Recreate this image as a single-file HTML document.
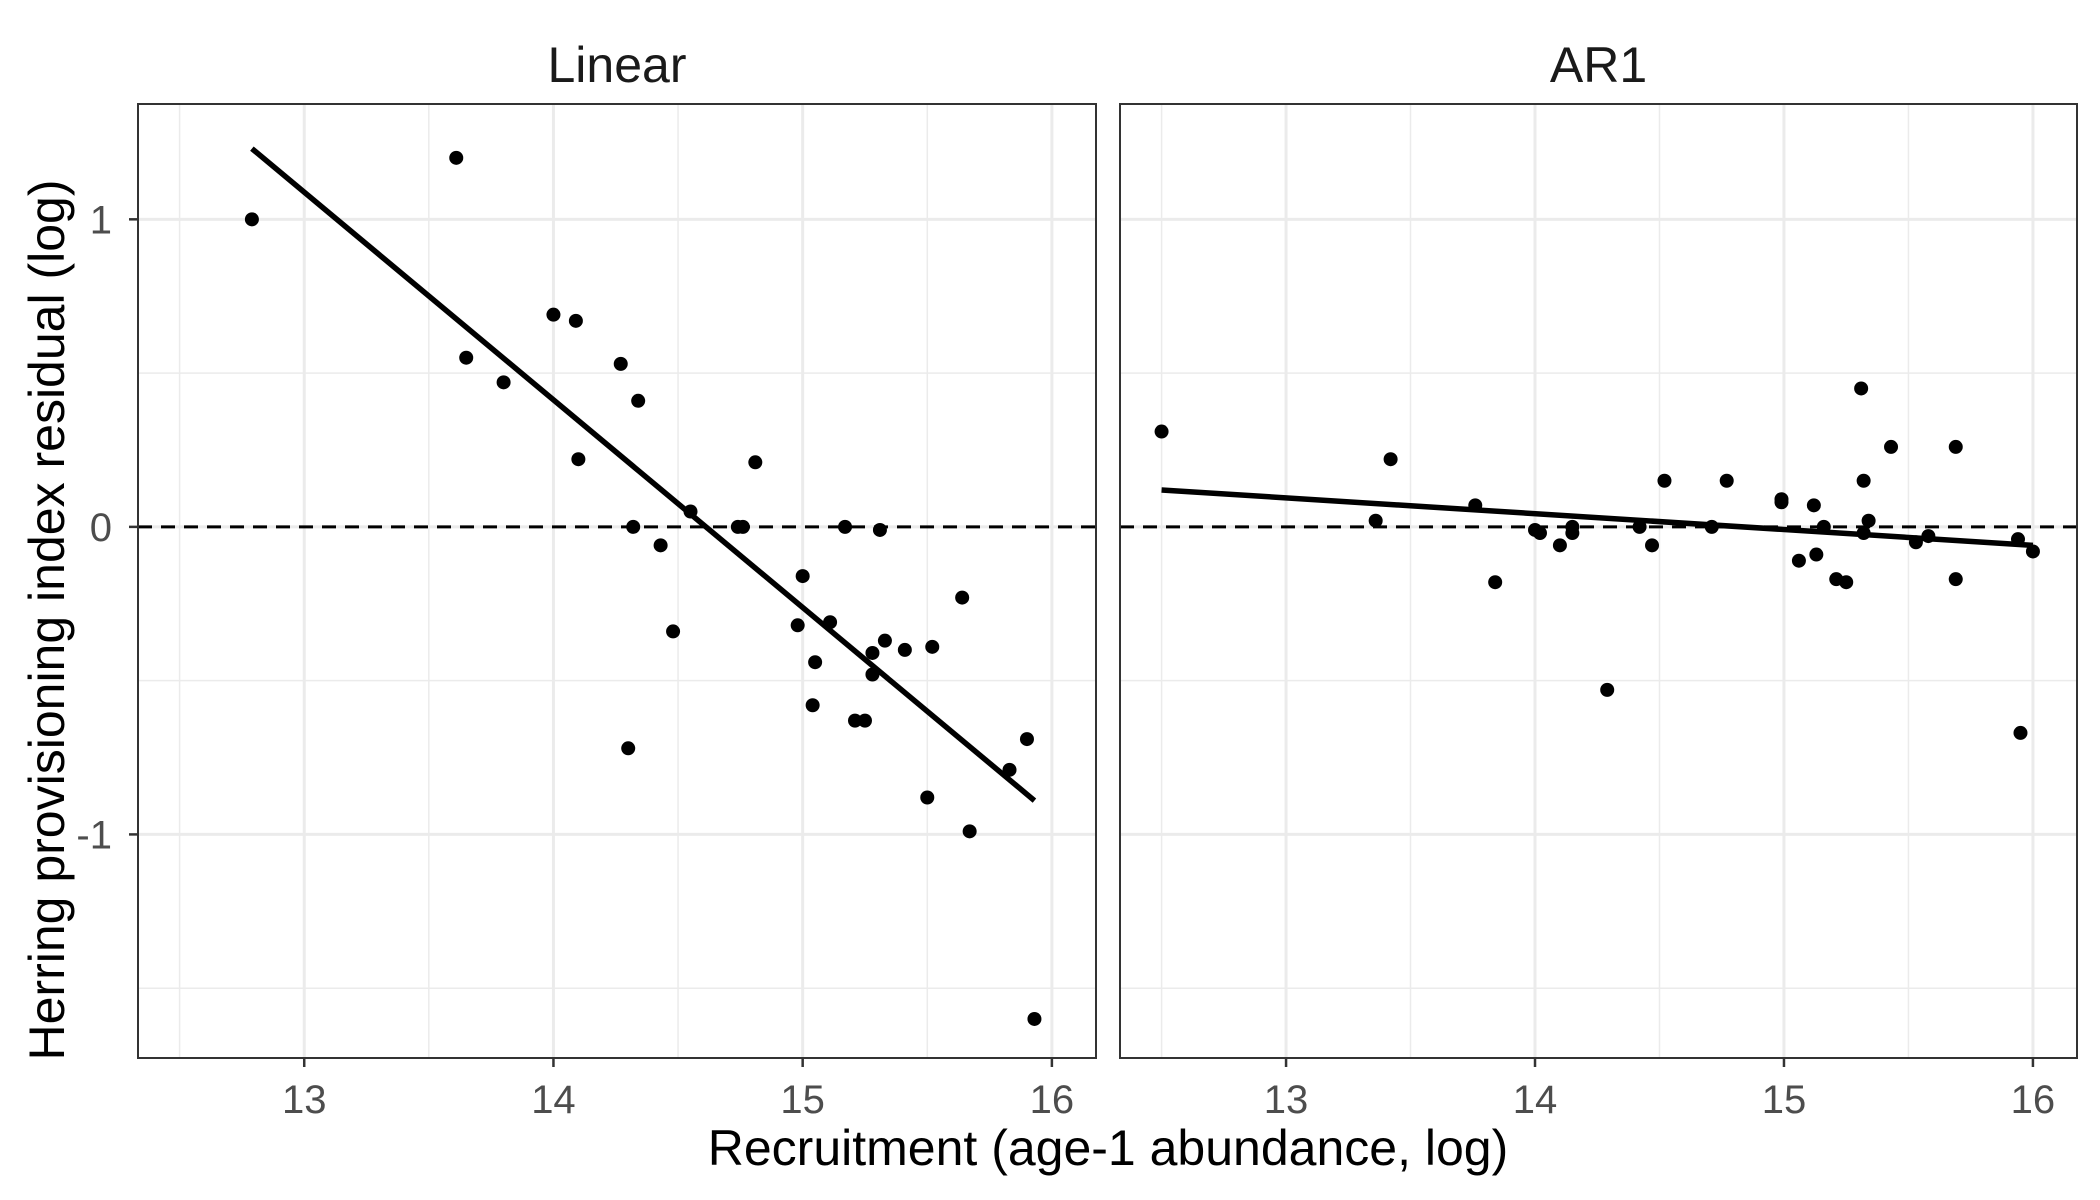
<!DOCTYPE html>
<html><head><meta charset="utf-8"><style>
html,body{margin:0;padding:0;background:#fff}
svg{display:block}
text{font-family:"Liberation Sans",Arial,sans-serif}
</style></head><body>
<svg id="chart" width="2100" height="1200" viewBox="0 0 2100 1200"></svg>
<script>
const facetTitles = ["Linear", "AR1"];
const linearX = [12.79,13.61,13.65,13.80,14.00,14.09,14.10,14.27,14.34,14.32,14.43,14.30,14.48,14.55,14.74,14.76,14.81,14.98,15.00,15.05,15.04,15.11,15.17,15.21,15.25,15.28,15.28,15.31,15.33,15.41,15.50,15.52,15.64,15.67,15.83,15.90,15.93];
const linearY = [1.00,1.20,0.55,0.47,0.69,0.67,0.22,0.53,0.41,0.00,-0.06,-0.72,-0.34,0.05,0.00,0.00,0.21,-0.32,-0.16,-0.44,-0.58,-0.31,0.00,-0.63,-0.63,-0.41,-0.48,-0.01,-0.37,-0.40,-0.88,-0.39,-0.23,-0.99,-0.79,-0.69,-1.60];
const linearFitX = [12.79, 15.93];
const linearFitY = [1.23, -0.89];
const ar1X = [12.50,13.36,13.42,13.76,13.84,14.00,14.02,14.10,14.15,14.15,14.29,14.42,14.47,14.52,14.71,14.77,14.99,14.99,15.06,15.12,15.13,15.16,15.21,15.25,15.31,15.32,15.32,15.34,15.43,15.53,15.58,15.69,15.69,15.94,15.95,16.00];
const ar1Y = [0.31,0.02,0.22,0.07,-0.18,-0.01,-0.02,-0.06,-0.02,0.00,-0.53,0.00,-0.06,0.15,0.00,0.15,0.08,0.09,-0.11,0.07,-0.09,0.00,-0.17,-0.18,0.45,0.15,-0.02,0.02,0.26,-0.05,-0.03,0.26,-0.17,-0.04,-0.67,-0.08];
const ar1FitX = [12.50, 16.00];
const ar1FitY = [0.12, -0.06];
const xTicks = [13,14,15,16];
const xMinor = [12.5,13.5,14.5,15.5];
const yTicks = [-1,0,1];
const yTickLabels = ["-1","0","1"];
const yMinor = [-1.5,-0.5,0.5];
const xDomain = [12.333, 16.177];
const yDomain = [-1.727, 1.375];

const NS = "http://www.w3.org/2000/svg";
const svg = document.getElementById("chart");
function mk(tag, attrs, parent){
  const e = document.createElementNS(NS, tag);
  for (const k in attrs) e.setAttribute(k, attrs[k]);
  (parent||svg).appendChild(e);
  return e;
}
const plotTop = 104, plotBottom = 1058;
const panels = [
  {x0:138, x1:1096, xs:linearX, ys:linearY, fx:linearFitX, fy:linearFitY},
  {x0:1120, x1:2077, xs:ar1X, ys:ar1Y, fx:ar1FitX, fy:ar1FitY}
];
function yScale(v){ return plotBottom - (v - yDomain[0])/(yDomain[1]-yDomain[0])*(plotBottom-plotTop); }

panels.forEach((p, i) => {
  const xScale = v => p.x0 + (v - xDomain[0])/(xDomain[1]-xDomain[0])*(p.x1-p.x0);
  const g = mk("g", {});
  
  
  mk("rect", {x:p.x0, y:plotTop, width:p.x1-p.x0, height:plotBottom-plotTop, fill:"#fff"}, g);
  xMinor.forEach(v => { const l = mk("line", {x1:xScale(v), x2:xScale(v), y1:plotTop, y2:plotBottom, stroke:"#ebebeb", "stroke-width":1.5}, g);
      });
  yMinor.forEach(v => { const l = mk("line", {x1:p.x0, x2:p.x1, y1:yScale(v), y2:yScale(v), stroke:"#ebebeb", "stroke-width":1.5}, g);
      });
  xTicks.forEach(v => { const l = mk("line", {x1:xScale(v), x2:xScale(v), y1:plotTop, y2:plotBottom, stroke:"#ebebeb", "stroke-width":3}, g);
      });
  yTicks.forEach(v => { const l = mk("line", {x1:p.x0, x2:p.x1, y1:yScale(v), y2:yScale(v), stroke:"#ebebeb", "stroke-width":3}, g);
      });
  const zl = mk("line", {x1:p.x0, x2:p.x1, y1:yScale(0), y2:yScale(0), stroke:"#000", "stroke-width":3, "stroke-dasharray":"14 9"}, g);
   
  p.xs.forEach((xv, k) => {
    const c = mk("circle", {cx:xScale(xv), cy:yScale(p.ys[k]), r:7, fill:"#000"}, g);
     
  });
  const fl = mk("line", {x1:xScale(p.fx[0]), y1:yScale(p.fy[0]), x2:xScale(p.fx[1]), y2:yScale(p.fy[1]), stroke:"#000", "stroke-width":5.5}, g);
   
  const br = mk("rect", {x:p.x0, y:plotTop, width:p.x1-p.x0, height:plotBottom-plotTop, fill:"none", stroke:"#333", "stroke-width":2}, g);
   
  const st = mk("text", {x:(p.x0+p.x1)/2, y:82, "text-anchor":"middle", "font-size":50, fill:"#1a1a1a"}, g);
  st.textContent = facetTitles[i];
   
  xTicks.forEach(v => {
    const t = mk("line", {x1:xScale(v), x2:xScale(v), y1:plotBottom, y2:plotBottom+9, stroke:"#333", "stroke-width":2.5}, g);
     
    const lb = mk("text", {x:xScale(v), y:1113, "text-anchor":"middle", "font-size":40, fill:"#4d4d4d"}, g);
    lb.textContent = String(v);
     
  });
  if (i === 0) {
    yTicks.forEach((v, k) => {
      const t = mk("line", {x1:p.x0-9, x2:p.x0, y1:yScale(v), y2:yScale(v), stroke:"#333", "stroke-width":2.5}, g);
       
      const lb = mk("text", {x:p.x0-26, y:yScale(v)+14, "text-anchor":"end", "font-size":40, fill:"#4d4d4d"}, g);
      lb.textContent = yTickLabels[k];
       
    });
  }
});

const xt = document.createElementNS(NS, "text");
xt.setAttribute("x", 1108); xt.setAttribute("y", 1165); xt.setAttribute("text-anchor", "middle"); xt.setAttribute("font-size", 50); xt.setAttribute("fill", "#000");
xt.textContent = "Recruitment (age-1 abundance, log)";


svg.appendChild(xt);
const yt = document.createElementNS(NS, "text");
yt.setAttribute("transform", "translate(64,620) rotate(-90)"); yt.setAttribute("text-anchor", "middle"); yt.setAttribute("font-size", 50); yt.setAttribute("fill", "#000");
yt.textContent = "Herring provisioning index residual (log)";


svg.appendChild(yt);
</script>
</body></html>
